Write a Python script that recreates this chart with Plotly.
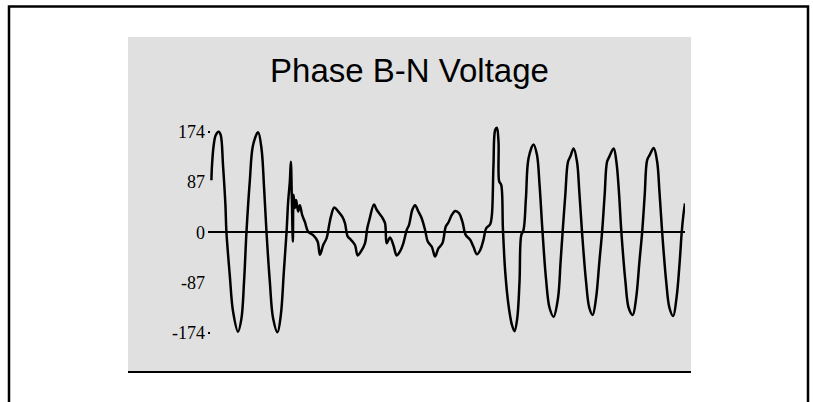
import plotly.graph_objects as go

# Phase B-N voltage trace (time in ms, voltage in V)
time_ms = [
    0.0, 0.25, 0.96, 1.79, 3.04, 3.88, 4.83, 5.83, 6.25, 7.63, 9.0, 11.08, 12.5, 13.58,
    14.58, 15.96, 17.33, 19.42, 20.83, 21.92, 22.92, 24.29, 25.67, 27.5, 28.88, 30.13,
    31.25, 31.92, 32.63, 33.04, 33.46, 33.88, 34.17, 34.71, 35.25, 36.08, 36.79, 37.75,
    38.88, 40.25, 42.33, 44.17, 45.13, 46.5, 47.92, 49.0, 49.71, 51.08, 52.75, 54.42,
    55.54, 56.67, 58.04, 59.71, 60.83, 62.21, 63.88, 64.83, 65.67, 67.63, 68.75, 70.83,
    72.21, 72.92, 74.29, 75.67, 77.08, 78.46, 79.83, 81.25, 82.21, 83.58, 84.71, 86.08,
    87.5, 88.88, 90.0, 91.67, 93.04, 94.42, 96.08, 97.5, 98.58, 100.0, 101.38, 103.04,
    104.42, 105.83, 107.63, 109.0, 110.42, 111.79, 113.17, 114.29, 115.96, 116.67,
    117.33, 118.04, 118.75, 119.42, 119.71, 120.54, 121.25, 122.21, 123.58, 125.0,
    126.08, 127.21, 128.17, 128.88, 129.83, 130.83, 131.92, 134.0, 135.42, 136.5,
    137.75, 139.17, 140.67, 142.33, 144.17, 145.25, 146.08, 147.21, 148.33, 149.29,
    150.67, 152.08, 153.04, 154.17, 155.83, 157.21, 158.58, 160.0, 161.38, 162.5,
    163.58, 164.58, 165.54, 167.33, 168.46, 169.42, 170.54, 172.21, 173.58, 175.25,
    176.67, 178.04, 179.17, 180.25, 181.25, 182.33, 184.0, 185.42, 186.38, 187.5,
    189.17, 190.54, 192.08, 193.46, 194.79, 195.63, 196.33, 197.0,
]
voltage_v = [
    90, 116, 151, 168, 174, 168, 116, 47, 0, -74, -137, -172, -149, -85,
    0, 88, 151, 173, 145, 76, 0, -85, -149, -173, -143, -68,
    0, 53, 88, 122, 59, -16, 65, 42, 56, 36, 47, 30,
    18, 1, -5, -16, -39, -22, -10, 13, 27, 43, 36, 27,
    16, -7, -13, -22, -40, -33, -19, 7, 21, 48, 39, 27,
    16, -19, -9, -22, -40, -33, -19, 4, 13, 39, 47, 36,
    24, 4, -16, -25, -42, -28, -19, 10, 17, 30, 37, 33,
    18, -5, -13, -25, -38, -31, -13, 7, 14, 30,
    116, 177, 181, 157, 88, 82, 7, -68, -126, -160,
    -171, -149, -85, -5, 4, 59, 128, 152, 134, 82,
    0, -80, -131, -146, -114, -51, 0, 65, 122, 131,
    145, 122, 70, 0, -85, -131, -143, -114, -51, 0,
    65, 122, 131, 145, 122, 76, 0, -85, -131, -143,
    -114, -51, 0, 65, 125, 134, 146, 122, 70, 0,
    -85, -131, -145, -114, -51, 0, 30, 50,
]

tick_values = [174, 87, 0, -87, -174]
tick_labels = ["174", "87", "0", "-87", "-174"]
edge_ticks = [174, -174]

TITLE = "Phase B-N Voltage"

# Page geometry (pixels)
W, H = 813, 402
ML, MR, MT, MB = 208, 128, 37, 30
PW = W - ML - MR
PH = H - MT - MB


def px_x(px):
    return (px - ML) / PW


def px_y(py):
    return (H - MB - py) / PH


Y_RANGE = [-241.7, 337.9]
X_RANGE = [-1.42, 197.0]

fig = go.Figure()
fig.add_trace(go.Scatter(
    x=time_ms, y=voltage_v, mode="lines",
    line=dict(color="black", width=2.5, shape="spline", smoothing=1.0),
    hoverinfo="skip", showlegend=False,
))
fig.add_trace(go.Scatter(x=[None], y=[None], yaxis="y2", showlegend=False, hoverinfo="skip"))

shapes = [
    # grey chart panel
    dict(type="rect", xref="paper", yref="paper", layer="below",
         x0=px_x(128), x1=px_x(691), y0=px_y(372), y1=px_y(37),
         fillcolor="#e0e0e0", line=dict(width=0)),
    # baseline under the panel
    dict(type="line", xref="paper", yref="paper", layer="above",
         x0=px_x(128), x1=px_x(691), y0=px_y(372), y1=px_y(372),
         line=dict(color="black", width=2)),
    # outer frame
    dict(type="rect", xref="paper", yref="paper", layer="above",
         x0=px_x(9), x1=px_x(808), y0=px_y(430), y1=px_y(6.5),
         fillcolor="rgba(0,0,0,0)", line=dict(color="black", width=2.5)),
]

fig.update_layout(
    width=W, height=H,
    margin=dict(l=ML, r=MR, t=MT, b=MB, pad=0),
    paper_bgcolor="white",
    plot_bgcolor="rgba(0,0,0,0)",
    shapes=shapes,
    title=dict(text=TITLE, x=px_x(409.5), xref="paper", xanchor="center",
               y=1 - 70 / H, yref="container", yanchor="middle",
               font=dict(family="Liberation Sans, Arial", size=33, color="black")),
    xaxis=dict(range=X_RANGE, visible=False, fixedrange=True),
    yaxis=dict(range=Y_RANGE, tickvals=tick_values, ticktext=tick_labels,
               showgrid=False, showline=False, ticks="",
               zeroline=True, zerolinecolor="black", zerolinewidth=1.5,
               tickfont=dict(family="Liberation Serif, Times New Roman", size=18, color="black"),
               ticklabelstandoff=2),
    yaxis2=dict(range=Y_RANGE, overlaying="y", side="left", anchor="x",
                tickvals=edge_ticks, showticklabels=False, ticks="inside",
                ticklen=2, tickwidth=2, tickcolor="black",
                showgrid=False, showline=False, zeroline=False),
    showlegend=False,
)

fig.write_html("out.html")
